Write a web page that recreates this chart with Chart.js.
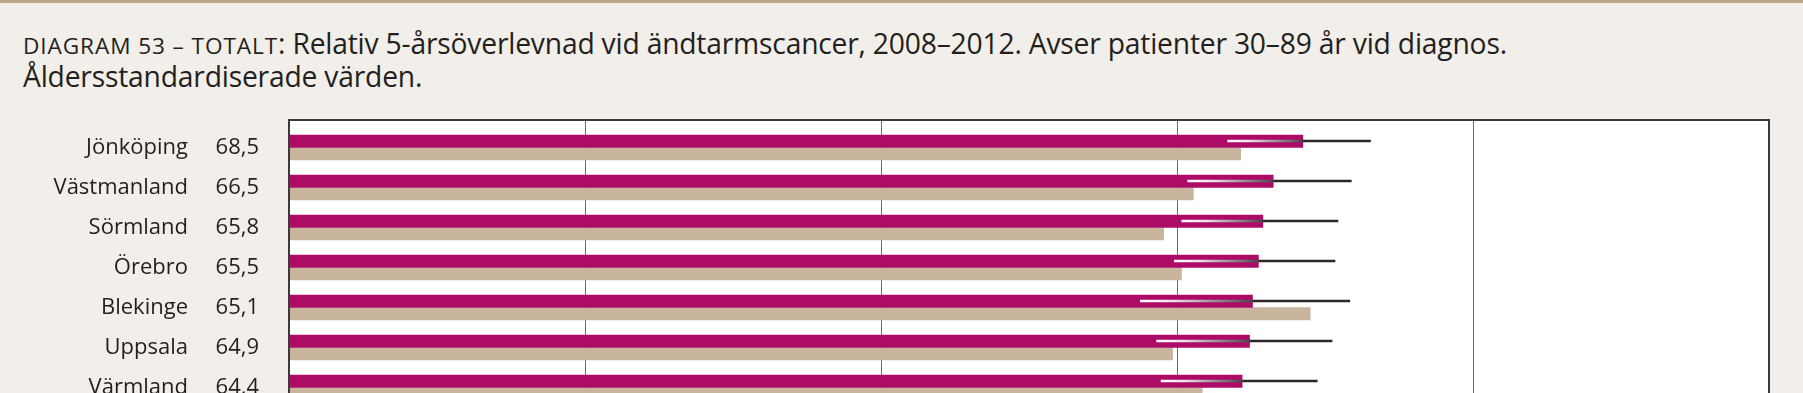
<!DOCTYPE html>
<html>
<head>
<meta charset="utf-8">
<script src="https://cdn.jsdelivr.net/npm/chart.js@4/dist/chart.umd.min.js"></script>
<style>
  html, body { margin: 0; padding: 0; }
  body { width: 1803px; height: 393px; overflow: hidden; background: #f2eee9; position: relative; font-family: "Open Sans", sans-serif; }
  #strip { position: absolute; left: 0; top: 0; width: 1803px; height: 3px; background: #bea78c; border-bottom: 1px solid #f7e9dc; }
  #title { position: absolute; left: 23px; top: 28px; font-size: 24px; line-height: 31px; color: #231f20; white-space: nowrap; letter-spacing: -0.2px; }
  #title .sc { font-size: 0.8em; letter-spacing: 0.04em; }
  #chartBox { position: absolute; left: 0; top: 0; }
</style>
</head>
<body>
<div id="strip"></div>
<div id="title"><span id="line1"><span class="sc">DIAGRAM 53 – TOTALT</span>: Relativ 5-årsöverlevnad vid ändtarmscancer, 2008–2012. Avser patienter 30–89 år vid diagnos.</span><br>Åldersstandardiserade värden.</div>
<div id="chartBox"><canvas id="survChart" width="1803" height="440"></canvas></div>
<script>
// Län, överlevnad 2008–2012 (rosa), jämförelse (beige), konfidensintervall
const counties = ['Jönköping', 'Västmanland', 'Sörmland', 'Örebro', 'Blekinge', 'Uppsala', 'Värmland'];
const survival = [68.5, 66.5, 65.8, 65.5, 65.1, 64.9, 64.4];
const compare  = [64.3, 61.1, 59.1, 60.3, 69.0, 59.7, 61.7];
const ciLow    = [63.4, 60.7, 60.3, 59.8, 57.5, 58.6, 58.9];
const ciHigh   = [73.1, 71.8, 70.9, 70.7, 71.7, 70.5, 69.5];

// fit title line 1 to original width
const line1 = document.getElementById('line1');
const titleEl = document.getElementById('title');
const w = line1.getBoundingClientRect().width;
titleEl.style.fontSize = (24 * 1481 / w) + 'px';

const frame = {
  id: 'frame',
  beforeDraw(chart) {
    const a = chart.chartArea, ctx = chart.ctx;
    ctx.save();
    ctx.fillStyle = '#ffffff';
    ctx.fillRect(a.left, a.top, a.right - a.left, a.bottom - a.top);
    ctx.restore();
  },
  afterDraw(chart) {
    const a = chart.chartArea, ctx = chart.ctx;
    ctx.save();
    ctx.strokeStyle = '#3a3a3a';
    ctx.lineWidth = 2;
    ctx.strokeRect(a.left, a.top, a.right - a.left, a.bottom - a.top + 20);
    ctx.restore();
  }
};

const ciLines = {
  id: 'ciLines',
  afterDatasetsDraw(chart) {
    const xs = chart.scales.x, ys = chart.scales.y, ctx = chart.ctx;
    ctx.save();
    ctx.lineWidth = 2.5;
    for (let i = 0; i < counties.length; i++) {
      const y = ys.getPixelForValue(i) - 6.5;
      const x0 = xs.getPixelForValue(ciLow[i]);
      const xm = xs.getPixelForValue(survival[i]);
      const x1 = xs.getPixelForValue(ciHigh[i]);
      const g = ctx.createLinearGradient(x0, 0, xm, 0);
      g.addColorStop(0, '#ffffff');
      g.addColorStop(0.3, '#f1e1ea');
      g.addColorStop(1, '#4a4648');
      ctx.strokeStyle = g;
      ctx.beginPath(); ctx.moveTo(x0, y); ctx.lineTo(xm, y); ctx.stroke();
      ctx.strokeStyle = '#2a2829';
      ctx.beginPath(); ctx.moveTo(xm, y); ctx.lineTo(x1, y); ctx.stroke();
    }
    ctx.restore();
  }
};

const rowLabels = {
  id: 'rowLabels',
  afterDraw(chart) {
    const ys = chart.scales.y, ctx = chart.ctx;
    ctx.save();
    ctx.fillStyle = '#231f20';
    ctx.font = '22px "Open Sans", sans-serif';
    ctx.textBaseline = 'middle';
    ctx.textAlign = 'right';
    for (let i = 0; i < counties.length; i++) {
      const y = ys.getPixelForValue(i);
      ctx.fillText(counties[i], 188, y);
      ctx.fillText(survival[i].toFixed(1).replace('.', ','), 259, y);
    }
    ctx.restore();
  }
};

new Chart('survChart', {
  type: 'bar',
  data: {
    datasets: [
      {
        label: '2008–2012',
        data: survival.map((v, i) => ({ x: v, y: i })),
        backgroundColor: '#ac0b67',
        barThickness: 12.5
      },
      {
        label: 'Jämförelse',
        data: compare.map((v, i) => ({ x: v, y: i })),
        backgroundColor: '#c9b49d',
        barThickness: 12.5
      }
    ]
  },
  options: {
    indexAxis: 'y',
    responsive: false,
    animation: false,
    layout: { padding: { left: 289, right: 34, top: 120, bottom: 0 } },
    plugins: { legend: { display: false }, tooltip: { enabled: false }, title: { display: false } },
    scales: {
      x: {
        type: 'linear',
        min: 0, max: 100,
        ticks: { stepSize: 20, display: false },
        grid: { color: '#6e6e6e', lineWidth: 1, drawTicks: false },
        border: { display: false },
        afterFit: s => { s.height = 0; }
      },
      y: {
        type: 'linear',
        reverse: true,
        offset: false,
        min: -0.6875, max: 7.3125,
        display: false
      }
    }
  },
  plugins: [frame, ciLines, rowLabels]
});
</script>
</body>
</html>
